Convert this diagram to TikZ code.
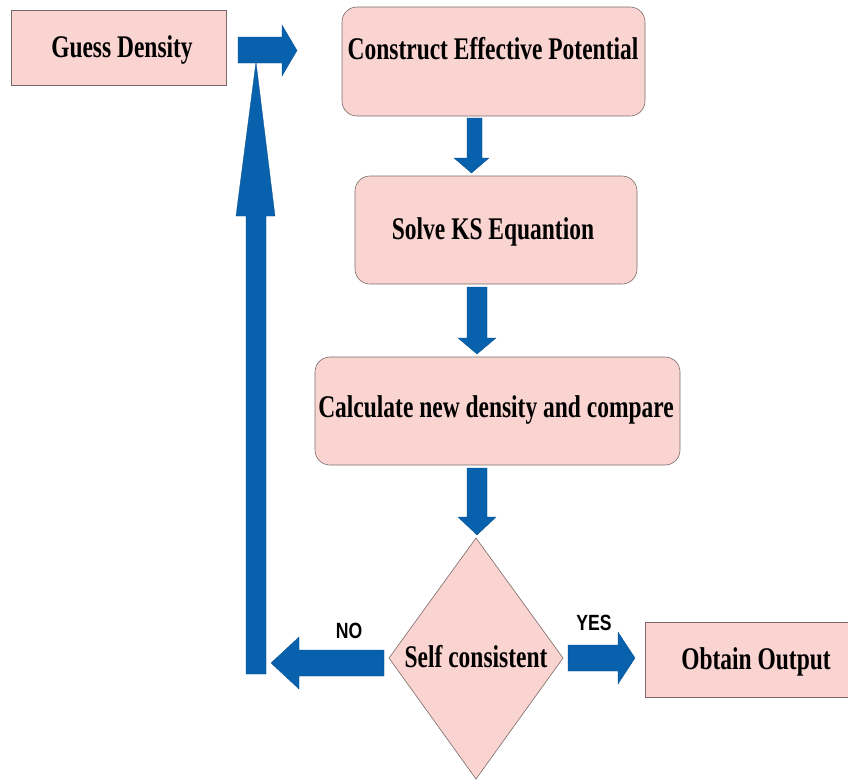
\documentclass[tikz,border=0pt]{standalone}
\usepackage{fontspec}
\setmainfont{Liberation Serif}[FakeStretch=0.745]
\newfontfamily\lblfont{Liberation Sans}[FakeStretch=0.8]
\definecolor{boxpink}{HTML}{FAD4D0}
\definecolor{boxline}{HTML}{7A6A6A}
\definecolor{arrowblue}{HTML}{0861AD}
\begin{document}
\begin{tikzpicture}[x=1pt,y=-1pt,
  boxtext/.style={font=\fontsize{31.5}{36}\selectfont\bfseries, inner sep=0pt, anchor=base},
  lbltext/.style={font=\lblfont\fontsize{22}{26}\selectfont\bfseries, inner sep=0pt, anchor=base},
  sharpbox/.style={draw=boxline, fill=boxpink, line width=0.6pt, rectangle, inner sep=0pt},
  roundbox/.style={draw=boxline, fill=boxpink, line width=0.6pt, rectangle, rounded corners=15pt, inner sep=0pt},
  blockarrow/.style={fill=arrowblue, draw=arrowblue!80!black, line width=0.3pt, line join=miter}
]
\useasboundingbox (0,0) rectangle (848,780);
\fill[white] (0,0) rectangle (848,780);

% boxes
\node[sharpbox, minimum width=215pt, minimum height=75pt] (gd) at (118.5,47.5) {};
\node[roundbox, minimum width=303pt, minimum height=109pt] (cep) at (493.5,61.5) {};
\node[roundbox, minimum width=282pt, minimum height=108pt] (ks) at (496,230) {};
\node[roundbox, minimum width=365pt, minimum height=108pt] (cnd) at (497.5,411) {};
\node[sharpbox, minimum width=203pt, minimum height=75pt] (oo) at (746.5,660) {};
\coordinate (sctop) at (476,538);
\coordinate (scr) at (563,658);
\coordinate (scb) at (476,779);
\coordinate (scl) at (389,658);
\draw[draw=boxline, fill=boxpink, line width=0.6pt] (sctop) -- (scr) -- (scb) -- (scl) -- cycle;

% texts
\node[boxtext] (gdt) at (122,57) {Guess Density};
\node[boxtext] (cept) at (493,59) {Construct Effective Potential};
\node[boxtext] (kst) at (493,239) {Solve KS Equantion};
\node[boxtext] (cndt) at (496,417) {Calculate new density and compare};
\node[boxtext] (sct) at (476,667) {Self consistent};
\node[boxtext] (oot) at (756,669) {Obtain Output};
\node[lbltext] (no) at (349,638) {NO};
\node[lbltext] (yes) at (594,630) {YES};

% block arrows
% up arrow (loop back)
\fill[blockarrow] (246,674) -- (266,674) -- (266,216) -- (275,216) -- (256,62) -- (236,216) -- (246,216) -- cycle;
% right arrow into construct
\fill[blockarrow] (238,37) -- (282,37) -- (282,25) -- (297,50.5) -- (282,76) -- (282,63) -- (238,63) -- cycle;
% down arrows
\fill[blockarrow] (467,118) -- (482,118) -- (482,158) -- (489,158) -- (471.5,173) -- (454,158) -- (467,158) -- cycle;
\fill[blockarrow] (467,287) -- (487,287) -- (487,338) -- (496,338) -- (477,354) -- (458,338) -- (467,338) -- cycle;
\fill[blockarrow] (467,468) -- (487,468) -- (487,517) -- (496,517) -- (477,535) -- (458,517) -- (467,517) -- cycle;
% NO arrow
\fill[blockarrow] (384,650) -- (299,650) -- (299,637) -- (271,663) -- (299,689) -- (299,676) -- (384,676) -- cycle;
% YES arrow
\fill[blockarrow] (568,645) -- (618,645) -- (618,632) -- (635,658) -- (618,684) -- (618,671) -- (568,671) -- cycle;
\end{tikzpicture}
\end{document}
